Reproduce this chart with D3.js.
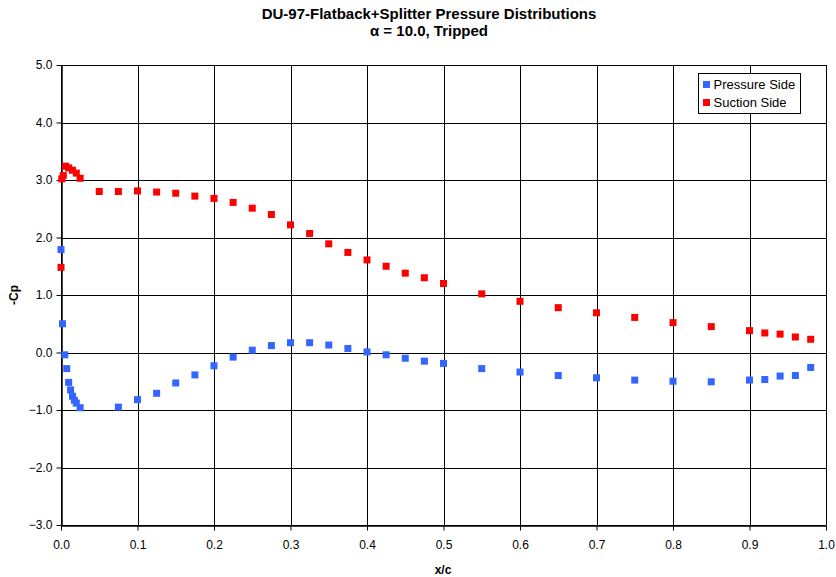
<!DOCTYPE html>
<html>
<head>
<meta charset="utf-8">
<script src="https://cdn.jsdelivr.net/npm/d3@7"></script>
<style>
  body { margin: 0; background: #fff; }
  text { font-family: "Liberation Sans", Arial, sans-serif; }
</style>
</head>
<body>
<div id="chart"></div>
<script>
// data
var pressureX  = [0.0, 0.002, 0.005, 0.0075, 0.01, 0.0125, 0.015, 0.0175, 0.02, 0.025,
                  0.075, 0.1, 0.125, 0.15, 0.175, 0.2, 0.225, 0.25, 0.275, 0.3, 0.325, 0.35,
                  0.375, 0.4, 0.425, 0.45, 0.475, 0.5, 0.55, 0.6, 0.65, 0.7, 0.75, 0.8, 0.85,
                  0.9, 0.92, 0.94, 0.96, 0.98];
var pressureCp = [1.79, 0.50, -0.04, -0.28, -0.52, -0.65, -0.76, -0.83, -0.88, -0.96,
                  -0.95, -0.82, -0.71, -0.53, -0.39, -0.23, -0.08, 0.04, 0.12, 0.17, 0.17, 0.13,
                  0.07, 0.01, -0.04, -0.10, -0.15, -0.19, -0.28, -0.34, -0.40, -0.44, -0.48, -0.50, -0.51,
                  -0.48, -0.47, -0.41, -0.40, -0.26];
var suctionX  = [0.0, 0.001, 0.003, 0.006, 0.01, 0.015, 0.02, 0.025, 0.05, 0.075, 0.1, 0.125,
                 0.15, 0.175, 0.2, 0.225, 0.25, 0.275, 0.3, 0.325, 0.35, 0.375, 0.4, 0.425,
                 0.45, 0.475, 0.5, 0.55, 0.6, 0.65, 0.7, 0.75, 0.8, 0.85, 0.9, 0.92, 0.94, 0.96, 0.98];
var suctionCp = [1.48, 3.02, 3.08, 3.24, 3.21, 3.17, 3.12, 3.03, 2.80, 2.80, 2.81, 2.79,
                 2.77, 2.72, 2.68, 2.61, 2.51, 2.40, 2.22, 2.07, 1.89, 1.74, 1.61, 1.50,
                 1.38, 1.30, 1.20, 1.02, 0.89, 0.78, 0.69, 0.61, 0.52, 0.45, 0.38, 0.34, 0.32, 0.27, 0.23];
var xTicks = [0, 0.1, 0.2, 0.3, 0.4, 0.5, 0.6, 0.7, 0.8, 0.9, 1.0];
var yTicks = [-3, -2, -1, 0, 1, 2, 3, 4, 5];
var seriesNames = ["Pressure Side", "Suction Side"];
var seriesColors = ["#3366FF", "#FF0000"];

var W = 836, H = 577;
var margin = {top: 65, right: 10, bottom: 52, left: 61};
var width = 826 - margin.left;
var height = 525 - margin.top;

var svg = d3.select("#chart").append("svg")
  .attr("width", W)
  .attr("height", H);

var g = svg.append("g")
  .attr("transform", "translate(" + margin.left + "," + margin.top + ")");

var x = d3.scaleLinear().domain([0, 1]).range([0, width]);
var y = d3.scaleLinear().domain([-3, 5]).range([height, 0]);

// gridlines
g.selectAll(".vgrid").data(xTicks).enter().append("line")
  .attr("x1", function(d){ return Math.round(x(d)) + 0.5; })
  .attr("x2", function(d){ return Math.round(x(d)) + 0.5; })
  .attr("y1", 0).attr("y2", height)
  .attr("stroke", "#000").attr("stroke-width", 1);
g.selectAll(".hgrid").data(yTicks).enter().append("line")
  .attr("x1", 0).attr("x2", width)
  .attr("y1", function(d){ return Math.round(y(d)) + 0.5; })
  .attr("y2", function(d){ return Math.round(y(d)) + 0.5; })
  .attr("stroke", "#000").attr("stroke-width", 1);

// axes
var xAxis = g.append("g")
  .attr("transform", "translate(0," + (Math.round(height) + 0.5) + ")")
  .call(d3.axisBottom(x).tickValues(xTicks).tickSize(5).tickSizeOuter(0).tickFormat(d3.format(".1f")));
var yAxis = g.append("g")
  .attr("transform", "translate(0.5,0)")
  .call(d3.axisLeft(y).tickValues(yTicks).tickSize(5).tickSizeOuter(0).tickFormat(d3.format(".1f")));
[xAxis, yAxis].forEach(function(a){
  a.select(".domain").attr("stroke", "#000").attr("stroke-width", 1.5);
  a.selectAll(".tick line").attr("stroke", "#000");
  a.selectAll("text").attr("font-size", 12).attr("fill", "#000")
    .style("font-family", "'Liberation Sans', Arial, sans-serif");
});
xAxis.selectAll("text").attr("dy", "1.25em");
yAxis.selectAll("text").attr("x", -9);

// points
var s = 7;
g.selectAll(".pressure").data(pressureX).enter().append("rect")
  .attr("x", function(d){ return x(d) - s/2; })
  .attr("y", function(d, i){ return y(pressureCp[i]) - s/2; })
  .attr("width", s).attr("height", s)
  .attr("fill", seriesColors[0]);
g.selectAll(".suction").data(suctionX).enter().append("rect")
  .attr("x", function(d){ return x(d) - s/2; })
  .attr("y", function(d, i){ return y(suctionCp[i]) - s/2; })
  .attr("width", s).attr("height", s)
  .attr("fill", seriesColors[1]);

// title
svg.append("text").attr("x", 429).attr("y", 19)
  .attr("text-anchor", "middle").attr("font-size", 15).attr("font-weight", "bold")
  .text("DU-97-Flatback+Splitter Pressure Distributions");
svg.append("text").attr("x", 429).attr("y", 36)
  .attr("text-anchor", "middle").attr("font-size", 15).attr("font-weight", "bold")
  .text("α = 10.0, Tripped");

// axis titles
svg.append("text").attr("x", 443).attr("y", 574)
  .attr("text-anchor", "middle").attr("font-size", 12).attr("font-weight", "bold")
  .text("x/c");
svg.append("text")
  .attr("transform", "translate(18,295) rotate(-90)")
  .attr("text-anchor", "middle").attr("font-size", 12).attr("font-weight", "bold")
  .text("-Cp");

// legend
var legend = svg.append("g").attr("transform", "translate(698.5,73.5)");
legend.append("rect").attr("width", 102).attr("height", 40)
  .attr("fill", "#fff").attr("stroke", "#000").attr("stroke-width", 1);
legend.selectAll(".lk").data(seriesNames).enter().append("rect")
  .attr("x", 4.5).attr("y", function(d, i){ return 7.5 + i * 18; })
  .attr("width", 7).attr("height", 7)
  .attr("fill", function(d, i){ return seriesColors[i]; });
legend.selectAll(".lt").data(seriesNames).enter().append("text")
  .attr("x", 15).attr("y", function(d, i){ return 15.5 + i * 18; })
  .attr("font-size", 13).text(function(d){ return d; });
</script>
</body>
</html>
